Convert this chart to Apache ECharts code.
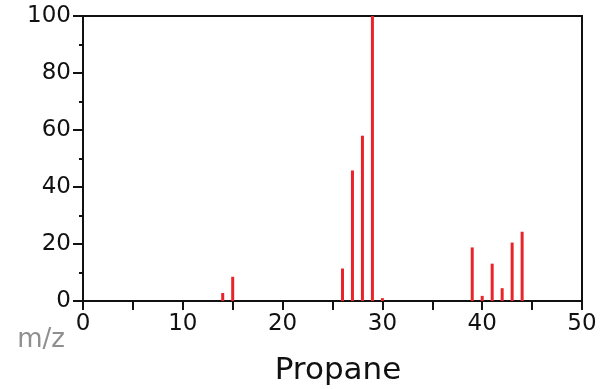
<!DOCTYPE html>
<html>
<head>
<meta charset="utf-8">
<script src="https://cdn.jsdelivr.net/npm/echarts@6/dist/echarts.min.js"></script>
<style>
  html, body { margin: 0; padding: 0; background: #fff; }
  #chart { width: 601px; height: 389px; }
</style>
</head>
<body>
<div id="chart"></div>
<script>
// mass spectrum of propane
const massToCharge = [14, 15, 26, 27, 28, 29, 30, 39, 40, 41, 42, 43, 44]
const intensity = [2.8, 8.5, 11.4, 45.8, 58, 100, 1, 18.8, 1.8, 13.1, 4.5, 20.5, 24.3]
const xTicks = [0, 10, 20, 30, 40, 50]
const yTicks = [0, 20, 40, 60, 80, 100]
const compound = 'Propane'
const xName = 'm/z'

const font = 'DejaVu Sans'
const chart = echarts.init(document.getElementById('chart'))

chart.setOption({
  animation: false,
  grid: {
    left: 83, right: 19, top: 16, bottom: 88,
    show: true, borderColor: '#111', borderWidth: 2,
  },
  xAxis: {
    type: 'value',
    min: xTicks[0],
    max: xTicks[xTicks.length - 1],
    interval: 10,
    axisLine: { lineStyle: { color: '#111', width: 2 } },
    axisTick: { length: 9, lineStyle: { color: '#111', width: 2 } },
    minorTick: { show: true, splitNumber: 2, length: 9, lineStyle: { color: '#111', width: 2 } },
    splitLine: { show: false },
    axisLabel: { color: '#111', fontFamily: font, fontSize: 23, margin: 12 },
  },
  yAxis: {
    type: 'value',
    min: yTicks[0],
    max: yTicks[yTicks.length - 1],
    interval: 20,
    axisLine: { show: true, lineStyle: { color: '#111', width: 2 } },
    axisTick: { show: true, length: 10, lineStyle: { color: '#111', width: 2 } },
    minorTick: { show: true, splitNumber: 2, length: 4, lineStyle: { color: '#111', width: 2 } },
    splitLine: { show: false },
    axisLabel: { color: '#111', fontFamily: font, fontSize: 23, margin: 12 },
  },
  graphic: [
    {
      type: 'text', x: 41, y: 340,
      style: { text: xName, fill: '#8f8f8f', font: '26px "' + font + '"', textAlign: 'center', textVerticalAlign: 'middle' },
    },
    {
      type: 'text', x: 338, y: 371,
      style: { text: compound, fill: '#111', font: '31px "' + font + '"', textAlign: 'center', textVerticalAlign: 'middle' },
    },
  ],
  series: [
    {
      type: 'bar',
      barWidth: 3,
      itemStyle: { color: '#e8242a' },
      data: massToCharge.map((m, i) => [m, intensity[i]]),
    },
  ],
})
</script>
</body>
</html>
